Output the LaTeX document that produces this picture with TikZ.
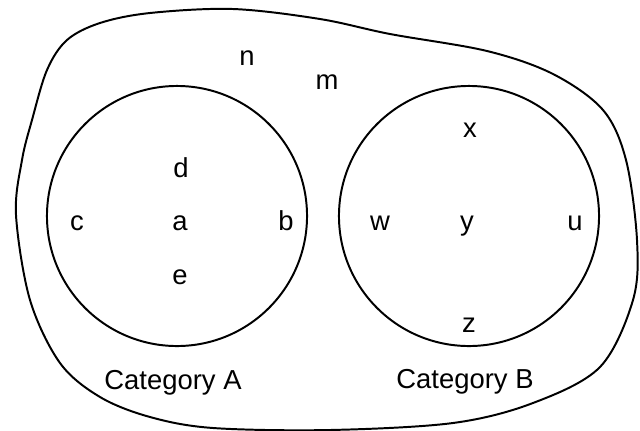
\documentclass[tikz,border=0pt]{standalone}
\usepackage{fontspec}
\setmainfont{Liberation Sans}
\begin{document}
\begin{tikzpicture}[x=0.025cm, y=-0.025cm, line width=1.4pt,
    item/.style={anchor=base, inner sep=0pt, font=\fontsize{19.5}{21}\selectfont},
    category/.style={circle, draw, minimum size=6.5cm, inner sep=0pt}]
    \useasboundingbox (0,0) rectangle (640,430);

    % The universe (outer blob)
    \draw plot[smooth cycle, tension=0.55] coordinates {
      (16,215) (22,160) (32,120) (47,70) (67,40) (100,23) (150,13) (233,9)
      (320,19) (390,34) (487,51) (553,74) (603,110)
      (626,160) (637,240) (633,300) (600,367) (533,403) (453,423)
      (330,430) (213,428) (150,417) (100,397) (60,363) (30,300)};

    % The two categories
    \node[category] (catA) at (177,216) {};
    \node[category] (catB) at (469,216) {};

    % Members outside both categories
    \node[item] (n) at (247,65) {n};
    \node[item] (m) at (327,89) {m};

    % Members of category A
    \node[item] (d) at (181,177) {d};
    \node[item] (c) at (77,230) {c};
    \node[item] (a) at (180,230) {a};
    \node[item] (b) at (286,230) {b};
    \node[item] (e) at (180,284) {e};

    % Members of category B
    \node[item] (x) at (470,137) {x};
    \node[item] (w) at (380,230) {w};
    \node[item] (y) at (467,230) {y};
    \node[item] (u) at (575,230) {u};
    \node[item] (z) at (469,332) {z};

    % Category labels
    \node[item] (labA) at (173,389) {Category A};
    \node[item] (labB) at (465,388) {Category B};
  \end{tikzpicture}
\end{document}
